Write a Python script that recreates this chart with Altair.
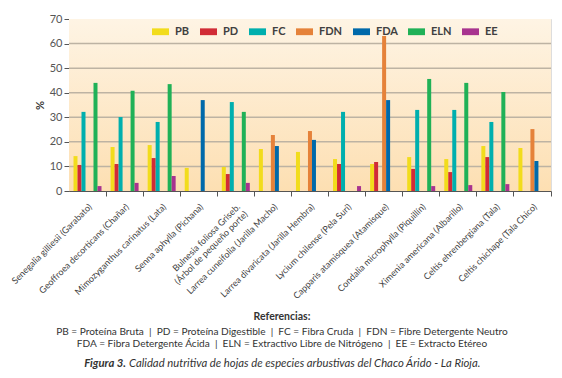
import altair as alt
import pandas as pd

species = [
    "Senegalia gilliesii (Garabato)",
    "Geoffroea decorticans (Chañar)",
    "Mimozyganthus carinatus (Lata)",
    "Senna aphylla (Pichana)",
    "Bulnesia foliosa Griseb.\n(Árbol de pequeño porte)",
    "Larrea cuneifolia (Jarilla Macho)",
    "Larrea divaricata (Jarilla Hembra)",
    "Lycium chilense (Pela Suri)",
    "Capparis atamisquea (Atamisque)",
    "Condalia microphylla (Piquillín)",
    "Ximenia americana (Albarillo)",
    "Celtis ehrenbergiana (Tala)",
    "Celtis chichape (Tala Chico)",
]
series = ["PB", "PD", "FC", "FDN", "FDA", "ELN", "EE"]
colors = ["#F2DC1C", "#D12C36", "#00AFAE", "#E5823A", "#0069AA", "#20B157", "#A8338F"]

PB = [14.2, 17.9, 18.7, 9.4, 9.8, 17.1, 15.9, 13.0, 11.0, 13.8, 13.0, 18.3, 17.5]
PD = [10.6, 11.0, 13.4, 0, 6.9, 0, 0, 11.0, 11.8, 9.0, 7.7, 13.8, 0]
FC = [32.2, 30.1, 28.1, 0, 36.2, 0, 0, 32.2, 0, 33.0, 33.0, 28.1, 0]
FDN = [0, 0, 0, 0, 0, 22.8, 24.4, 0, 63.1, 0, 0, 0, 25.2]
FDA = [0, 0, 0, 37.0, 0, 18.3, 20.8, 0, 37.0, 0, 0, 0, 12.2]
ELN = [44.0, 40.8, 43.5, 0, 32.2, 0, 0, 0, 0, 45.6, 44.0, 40.3, 0]
EE = [2.0, 3.3, 6.1, 0, 3.3, 0, 0, 2.0, 0, 2.0, 2.4, 2.8, 0]

y_ticks = [0, 10, 20, 30, 40, 50, 60, 70]
grid_values = [10, 20, 30, 40, 50, 60]

SEP = "\u00a0\u00a0|\u00a0\u00a0"
ref_title = "Referencias:"
ref_line1 = SEP.join(["PB = Proteína Bruta", "PD = Proteína Digestible",
                      "FC = Fibra Cruda", "FDN = Fibre Detergente Neutro"])
ref_line2 = SEP.join(["FDA = Fibra Detergente Ácida",
                      "ELN = Extractivo Libre de Nitrógeno", "EE = Extracto Etéreo"])
cap_bold = "Figura 3."
cap_rest = "Calidad nutritiva de hojas de especies arbustivas del Chaco Árido - La Rioja."

FONT = "Lato"

rows = []
for name, vals in zip(series, [PB, PD, FC, FDN, FDA, ELN, EE]):
    for sp, v in zip(species, vals):
        if v > 0:
            rows.append({"especie": sp, "serie": name, "valor": v})
df = pd.DataFrame(rows)

yscale = alt.Scale(domain=[0, 70])
yaxis = alt.Axis(title="%", values=y_ticks, grid=False, tickSize=5,
                 labelOverlap=False,
                 tickColor="#555555", domainColor="#555555",
                 labelFontSize=11, labelFont=FONT, labelColor="#555555",
                 titleFont=FONT, titleFontSize=11, titleColor="#404040",
                 titleFontWeight="bold", titlePadding=4)

bg = alt.Chart(alt.Data(values=[{}])).mark_rect(
    color=alt.Gradient(
        gradient="linear",
        stops=[alt.GradientStop(color="#FEF4E4", offset=0),
               alt.GradientStop(color="#FDDFB2", offset=1)],
        x1=0, x2=0, y1=0, y2=1,
    )
).encode(x=alt.value(0), x2=alt.value("width"), y=alt.value(0), y2=alt.value("height"))

grid = alt.Chart(pd.DataFrame({"g": grid_values})).mark_rule(
    color="#BDB3A3", strokeWidth=1.5
).encode(y=alt.Y("g:Q", scale=yscale, axis=yaxis))

bars = alt.Chart(df).mark_bar().encode(
    x=alt.X("especie:N", sort=species,
            scale=alt.Scale(paddingInner=0, paddingOuter=0),
            axis=alt.Axis(title=None, bandPosition=1, labelAngle=315, labelAlign="right",
                          labelBaseline="top", labelFontSize=9, labelFont=FONT,
                          labelColor="#404040", labelExpr="split(datum.label, '\\n')",
                          labelLineHeight=10.5, labelOverlap=False, labelBound=False,
                          tickSize=5, tickColor="#555555", domainColor="#555555",
                          labelPadding=6)),
    xOffset=alt.XOffset("serie:N", sort=series,
                        scale=alt.Scale(paddingInner=0, paddingOuter=0, range=[4.5, 32.5])),
    y=alt.Y("valor:Q", scale=yscale, axis=yaxis),
    color=alt.Color("serie:N", sort=series,
                    scale=alt.Scale(domain=series, range=colors),
                    legend=alt.Legend(title=None, orient="none", legendX=83, legendY=4,
                                      direction="horizontal",
                                      symbolType="M-1,-0.4H1V0.4H-1Z", symbolSize=289,
                                      symbolStrokeWidth=0, symbolOpacity=1,
                                      labelFont=FONT, labelFontSize=11, labelFontWeight="bold",
                                      labelColor="#404040", labelOffset=6, columnPadding=10,
                                      padding=0)),
)

def txt(t, x, y, **kw):
    return alt.Chart(alt.Data(values=[{"t": t}])).mark_text(
        font=FONT, color="#333333", **kw
    ).encode(text="t:N", x=alt.value(x), y=alt.value(y))

texts = [
    txt(ref_title, 213, 298, fontSize=10.5, fontWeight="bold", align="center"),
    txt(ref_line1, 213, 313, fontSize=10.1, align="center"),
    txt(ref_line2, 213, 325, fontSize=10.1, align="center"),
    txt(cap_bold, 57, 345, fontSize=11.3, fontWeight="bold", fontStyle="italic", align="right"),
    txt(cap_rest, 60, 345, fontSize=11.3, fontStyle="italic", align="left"),
]

chart = alt.layer(bg, grid, bars, *texts).properties(
    width=482, height=172,
    autosize=alt.AutoSizeParams(type="none"),
    padding={"left": 61, "top": 11, "right": 3, "bottom": 185},
).configure_view(stroke="#666666", strokeWidth=1.5).configure(background="white")

chart.save("out.html", embed_options={"renderer": "svg", "actions": False})
